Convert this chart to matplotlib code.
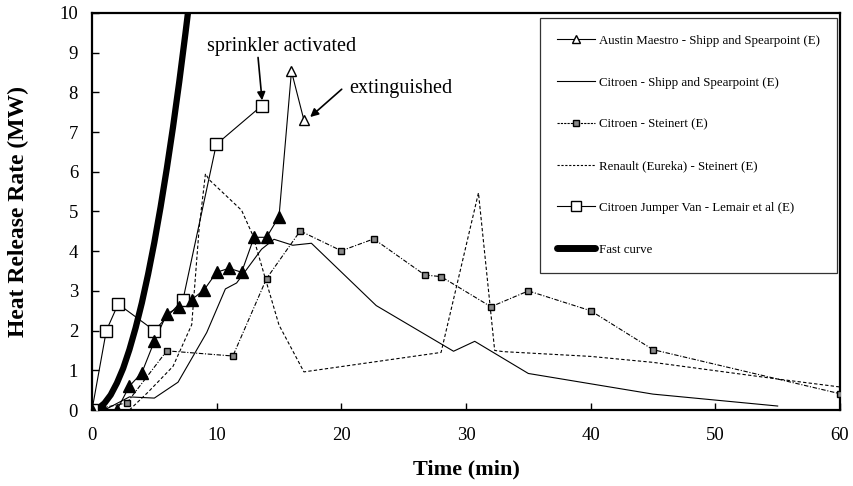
import matplotlib
matplotlib.use("Agg")
import matplotlib.pyplot as plt
from matplotlib.lines import Line2D

plt.rcParams["font.family"] = ["Liberation Serif", "DejaVu Serif"]

# Heat release rate curves (time in min, HRR in MW)
austin_t = [0, 1, 2, 3, 4, 5, 6, 7, 8, 9, 10, 11, 12, 13, 14, 15, 16, 17]
austin_q = [0, 0, 0, 0.6, 0.94, 1.73, 2.42, 2.59, 2.78, 3.03, 3.47, 3.57,
            3.47, 4.35, 4.35, 4.87, 8.53, 7.3]

citroen_ss_t = [0, 1, 3, 5, 6.9, 9.2, 10.7, 11.6, 13.6, 14.6, 16.1, 17.6,
                22.8, 29, 30.7, 35, 45, 55]
citroen_ss_q = [0, 0, 0.33, 0.3, 0.7, 1.95, 3.05, 3.2, 4.05, 4.3, 4.15, 4.2,
                2.63, 1.48, 1.73, 0.92, 0.4, 0.1]

citroen_st_t = [0, 2.8, 6, 11.3, 14, 16.7, 20, 22.6, 26.7, 28, 32, 35, 40, 45, 60]
citroen_st_q = [0, 0.18, 1.49, 1.36, 3.31, 4.51, 4.01, 4.31, 3.4, 3.36, 2.6,
                3.0, 2.5, 1.52, 0.41]

renault_t = [3, 4.5, 6.5, 8.0, 8.6, 9.1, 9.4, 12.0, 12.9, 13.85, 15.0, 17.0,
             28.0, 31.0, 32.3, 33.0, 40, 45, 55, 60]
renault_q = [0, 0.45, 1.1, 2.15, 4.6, 5.95, 5.8, 5.03, 4.4, 3.37, 2.14, 0.96,
             1.45, 5.47, 1.5, 1.47, 1.35, 1.2, 0.78, 0.58]

jumper_t = [0, 1.15, 2.1, 5.0, 7.3, 9.97, 13.6]
jumper_q = [0, 2.0, 2.67, 2.0, 2.78, 6.69, 7.66]

fast_t = [0, 0.5, 1, 1.5, 2, 2.5, 3, 3.5, 4, 4.5, 5, 5.5, 6, 6.5, 7, 7.5, 7.8]
fast_q = [0, 0.04, 0.17, 0.38, 0.68, 1.05, 1.52, 2.07, 2.7, 3.42, 4.22, 5.11,
          6.08, 7.13, 8.27, 9.5, 10.27]

labels = [
    "Austin Maestro - Shipp and Spearpoint (E)",
    "Citroen - Shipp and Spearpoint (E)",
    "Citroen - Steinert (E)",
    "Renault (Eureka) - Steinert (E)",
    "Citroen Jumper Van - Lemair et al (E)",
    "Fast curve",
]

fig = plt.figure(figsize=(8.54, 4.86), dpi=100)
ax = fig.add_axes([92 / 854, 1 - 410 / 486, 748 / 854, 397 / 486])

lw = 0.8
ax.plot(fast_t, fast_q, color="black", lw=4.5, solid_capstyle="butt", zorder=2)
ax.plot(citroen_ss_t, citroen_ss_q, color="black", lw=lw, zorder=3)
ax.plot(renault_t, renault_q, color="black", lw=lw, ls=(0, (3, 2)), zorder=3)
ax.plot(citroen_st_t, citroen_st_q, color="black", lw=lw, ls=(0, (4, 1.5, 1, 1.5)),
        marker="s", ms=4, mfc="#8a8a8a", mec="black", mew=1.0, zorder=4)
ax.plot(jumper_t, jumper_q, color="black", lw=lw, marker="s", ms=8,
        mfc="white", mec="black", mew=1.0, zorder=5)

# Austin Maestro: filled triangles up to sprinkler, open after
ax.plot(austin_t, austin_q, color="black", lw=lw, zorder=4)
ax.plot(austin_t[:16], austin_q[:16], ls="none", marker="^", ms=8,
        mfc="black", mec="black", zorder=5)
ax.plot(austin_t[16:], austin_q[16:], ls="none", marker="^", ms=7,
        mfc="white", mec="black", mew=1.0, zorder=5)

arrow = dict(arrowstyle="-|>", color="black", lw=1.2, mutation_scale=12,
             shrinkA=0, shrinkB=0)
ax.text(15.2, 9.15, "sprinkler activated", ha="center", va="center", fontsize=14.5)
ax.annotate("", xy=(13.64, 7.8), xytext=(13.32, 8.88), arrowprops=arrow)
ax.text(20.6, 8.1, "extinguished", ha="left", va="center", fontsize=14.5)
ax.annotate("", xy=(17.5, 7.38), xytext=(20.03, 8.08), arrowprops=arrow)

handles = [
    Line2D([], [], color="black", lw=lw, marker="^", ms=6, mfc="white", mec="black"),
    Line2D([], [], color="black", lw=lw),
    Line2D([], [], color="black", lw=lw, ls=(0, (2, 1)), marker="s", ms=4,
           mfc="#8a8a8a", mec="black"),
    Line2D([], [], color="black", lw=lw, ls=(0, (2, 1.5))),
    Line2D([], [], color="black", lw=lw, marker="s", ms=7, mfc="white", mec="black"),
    Line2D([], [], color="black", lw=5, solid_capstyle="round"),
]
leg = ax.legend(handles, labels, loc="upper right", bbox_to_anchor=(0.996, 0.987),
                fontsize=9.3, frameon=True, fancybox=False, labelspacing=2.3,
                handlelength=3.0, handletextpad=0.3, borderpad=1.3,
                borderaxespad=0)
leg.get_frame().set_edgecolor("black")
leg.get_frame().set_linewidth(0.9)

ax.set_xlim(0, 60)
ax.set_ylim(0, 10)
ax.set_xticks(range(0, 61, 10))
ax.set_yticks(range(0, 11))
ax.tick_params(direction="in", length=5, width=1, labelsize=13.5, pad=10,
               top=False, right=False)
ax.tick_params(axis="x", pad=12)
for s in ax.spines.values():
    s.set_linewidth(1.6)

ax.set_xlabel("Time (min)", fontsize=16, fontweight="bold")
ax.set_ylabel("Heat Release Rate (MW)", fontsize=17, fontweight="bold")
ax.xaxis.set_label_coords(0.5, -0.125)
ax.yaxis.set_label_coords(-0.084, 0.5)

fig.savefig("out.png", dpi=100)
